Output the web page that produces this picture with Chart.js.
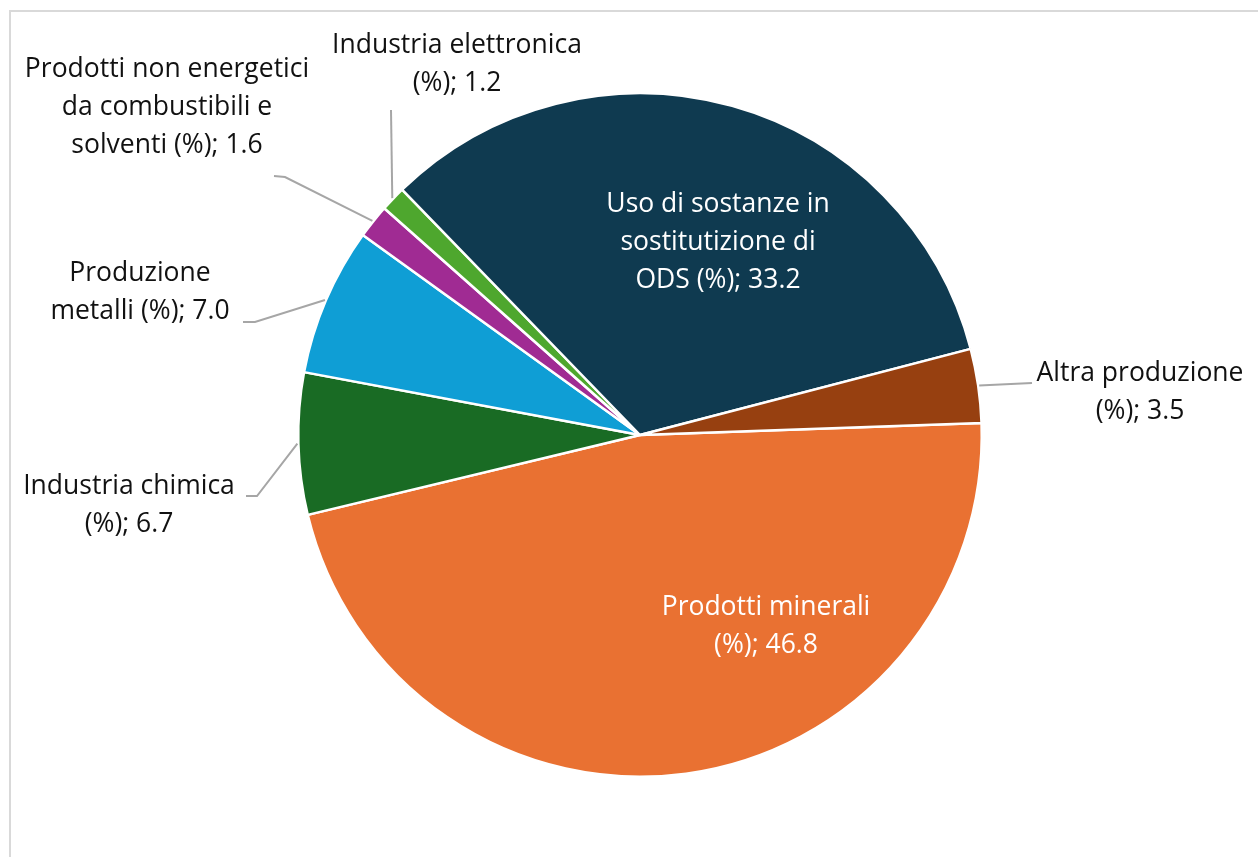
<!DOCTYPE html>
<html>
<head>
<meta charset="utf-8">
<script src="https://cdn.jsdelivr.net/npm/chart.js@4.4.1/dist/chart.umd.min.js"></script>
<style>
  html, body { margin: 0; padding: 0; background: #fff; overflow: hidden; }
  #frame { position: absolute; left: 9px; top: 10px; width: 1300px; height: 900px;
           border-left: 2px solid #d9d9d9; border-top: 2px solid #d9d9d9; }
  #wrap { position: absolute; left: 0; top: 0; width: 1258px; height: 857px; }
</style>
</head>
<body>
<div id="frame"></div>
<div id="wrap"><canvas id="myChart"></canvas></div>
<script>
// categories in IPCC order (2A..2G)
const categories = [
    ["Prodotti minerali", "(%); 46.8"],
    ["Industria chimica", "(%); 6.7"],
    ["Produzione", "metalli (%); 7.0"],
    ["Prodotti non energetici", "da combustibili e", "solventi (%); 1.6"],
    ["Industria elettronica", "(%); 1.2"],
    ["Uso di sostanze in", "sostitutizione di", "ODS (%); 33.2"],
    ["Altra produzione", "(%); 3.5"]
];
const shares = [46.8, 6.7, 7.0, 1.6, 1.2, 33.2, 3.5];
const sliceColors = ["#E97132", "#196B24", "#0F9ED5", "#A02B93", "#4EA72E", "#0F3A50", "#974010"];

// label layout: text block centre offset from pie centre, leader elbow / end offsets
const labelLayout = [
    { inside: true, dx: 126, dy: 191 },
    { dx: -511, dy: 70, elbow: [-383, 61], end: [-394, 61] },
    { dx: -500, dy: -143, elbow: [-385, -113], end: [-397, -113] },
    { dx: -473, dy: -328, elbow: [-355, -258], end: [-366, -259] },
    { dx: -183, dy: -371, elbow: [-249, -325], end: [-249, -325] },
    { inside: true, dx: 78, dy: -193 },
    { dx: 500, dy: -43, elbow: [392, -52], end: [392, -52] }
];

const pieLabels = {
    id: 'pieLabels',
    afterDatasetsDraw(chart) {
        const ctx = chart.ctx;
        const arcs = chart.getDatasetMeta(0).data;
        const lineH = 38;
        ctx.save();
        ctx.font = '26.5px "Open Sans", sans-serif';
        ctx.textAlign = 'center';
        ctx.textBaseline = 'middle';
        arcs.forEach((arc, i) => {
            const p = arc.getProps(['x', 'y', 'startAngle', 'endAngle', 'outerRadius'], true);
            const lay = labelLayout[i];
            const lines = categories[i];
            if (!lay.inside) {
                const mid = (p.startAngle + p.endAngle) / 2;
                const sx = p.x + Math.cos(mid) * (p.outerRadius + 1);
                const sy = p.y + Math.sin(mid) * (p.outerRadius + 1);
                ctx.strokeStyle = '#a6a6a6';
                ctx.lineWidth = 2;
                ctx.beginPath();
                ctx.moveTo(sx, sy);
                ctx.lineTo(p.x + lay.elbow[0], p.y + lay.elbow[1]);
                ctx.lineTo(p.x + lay.end[0], p.y + lay.end[1]);
                ctx.stroke();
            }
            ctx.fillStyle = lay.inside ? '#ffffff' : '#111111';
            const top = p.y + lay.dy - (lines.length - 1) * lineH / 2;
            lines.forEach((t, k) => ctx.fillText(t, p.x + lay.dx, top + k * lineH));
        });
        ctx.restore();
    }
};

const ctx = document.getElementById('myChart').getContext('2d');
new Chart(ctx, {
    type: 'pie',
    data: {
        labels: categories.map(c => c.join(' ')),
        datasets: [{
            data: shares,
            backgroundColor: sliceColors,
            borderColor: '#ffffff',
            borderWidth: 2.5
        }]
    },
    options: {
        responsive: true,
        maintainAspectRatio: false,
        animation: false,
        rotation: 88,
        layout: { padding: { left: 297, right: 275, top: 92, bottom: 79 } },
        plugins: {
            legend: { display: false },
            tooltip: { enabled: false }
        }
    },
    plugins: [pieLabels]
});
</script>
</body>
</html>
